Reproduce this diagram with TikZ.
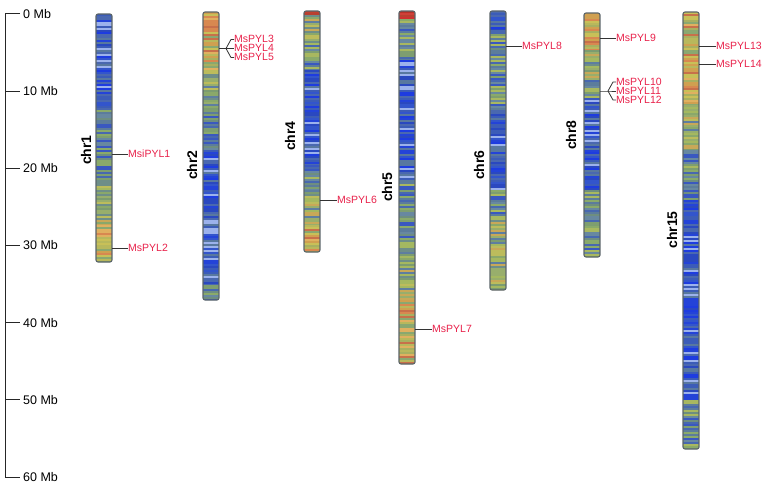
\documentclass[tikz,border=0pt]{standalone}
\usepackage{fontspec}
\setmainfont{Liberation Sans}
% palettes
\definecolor{pB1}{HTML}{2443D8}\definecolor{pB2}{HTML}{3355CC}\definecolor{pB3}{HTML}{2A48C0}\definecolor{pB4}{HTML}{4A68B0}
\definecolor{pB5}{HTML}{5878A0}\definecolor{pB6}{HTML}{1E3CE0}\definecolor{pB7}{HTML}{9CB2EC}\definecolor{pB8}{HTML}{3C5CB8}
\definecolor{pM1}{HTML}{3A58C0}\definecolor{pM2}{HTML}{5C7C9C}\definecolor{pM3}{HTML}{6E8E80}\definecolor{pM4}{HTML}{7E9E70}
\definecolor{pM5}{HTML}{4868B0}\definecolor{pM6}{HTML}{8AAA6A}\definecolor{pM7}{HTML}{6888A0}\definecolor{pM8}{HTML}{A8B860}
\definecolor{pG1}{HTML}{8AA86A}\definecolor{pG2}{HTML}{A4B860}\definecolor{pG3}{HTML}{6E8E88}\definecolor{pG4}{HTML}{BCBC5C}
\definecolor{pG5}{HTML}{7C9C70}\definecolor{pG6}{HTML}{98AE6C}\definecolor{pG7}{HTML}{5E7EA0}\definecolor{pG8}{HTML}{C8A858}
\definecolor{pO1}{HTML}{D0A050}\definecolor{pO2}{HTML}{C8C058}\definecolor{pO3}{HTML}{D88850}\definecolor{pO4}{HTML}{A8B060}
\definecolor{pO5}{HTML}{C8704A}\definecolor{pO6}{HTML}{8AA870}\definecolor{pO7}{HTML}{B8B85C}\definecolor{pO8}{HTML}{E0B060}
\definecolor{pR1}{HTML}{C83A30}\definecolor{pR2}{HTML}{D04038}\definecolor{pR3}{HTML}{B83028}\definecolor{pR4}{HTML}{C84838}
\definecolor{pR5}{HTML}{D03030}\definecolor{pR6}{HTML}{C04030}\definecolor{pR7}{HTML}{C83A30}\definecolor{pR8}{HTML}{B84030}
\definecolor{genered}{HTML}{E8214A}
\definecolor{chrline}{HTML}{5A6468}
\newcommand\seg[4]{%
  \pgfmathtruncatemacro\nn{(#3-#2)/2}%
  \foreach \i in {0,...,\nn}{%
    \pgfmathrandominteger{\kk}{1}{8}%
    \fill[#4\kk] (#1,#2+2*\i) rectangle ++(16,2.3);}}
\begin{document}
\begin{tikzpicture}[x=1pt,y=-1pt,
  chrbox/.style={draw=chrline,line width=1.1pt,rounded corners=2pt,minimum width=16pt,inner sep=0pt,outer sep=0pt,anchor=north west},
  chrlab/.style={rotate=90,font=\fontsize{14}{14}\selectfont\bfseries},
  gene/.style={text=genered,font=\fontsize{10.5}{10.5}\selectfont,anchor=west,inner sep=0pt,text height=7pt,text depth=0pt},
  conn/.style={draw=black!80,line width=0.8pt},
  axis/.style={draw=black!85,line width=1pt},
  axlab/.style={font=\fontsize{12.5}{12.5}\selectfont,anchor=west,inner sep=0pt}]
\useasboundingbox (0,0) rectangle (767,492);
\pgfmathsetseed{11}
% axis
\draw[axis] (20,14) coordinate (a0) -- (5,14) -- (5,477) -- (20,477) coordinate (a60);
\foreach \v in {10,20,30,40,50}{\draw[axis] (5,{14+7.717*\v}) -- (20,{14+7.717*\v}) coordinate (a\v);}
\node[axlab] (l0) at (23,14) {0 Mb};
\foreach \v in {10,20,30,40,50,60}{\node[axlab] (l\v) at (23,{14+7.717*\v}) {\v\ Mb};}
% chr1
\begin{scope}\clip[rounded corners=2pt] (96,14) rectangle (112,262);
\seg{96}{14}{110}{pB}\seg{96}{110}{180}{pM}\seg{96}{180}{225}{pG}\seg{96}{225}{262}{pO}\end{scope}
\node[chrbox,minimum height=248pt] (chr1) at (96,14) {};
\node[chrlab] (c1) at (86,150) {chr1};
% chr2
\begin{scope}\clip[rounded corners=2pt] (203,12) rectangle (219,300);
\seg{203}{12}{70}{pO}\seg{203}{70}{110}{pG}\seg{203}{110}{150}{pM}\seg{203}{150}{285}{pB}\seg{203}{285}{300}{pM}\end{scope}
\node[chrbox,minimum height=288pt] (chr2) at (203,12) {};
\node[chrlab] (c2) at (192,165) {chr2};
% chr4
\begin{scope}\clip[rounded corners=2pt] (304,11) rectangle (320,252);
\seg{304}{11}{15}{pR}\seg{304}{15}{45}{pG}\seg{304}{45}{70}{pM}\seg{304}{70}{165}{pB}\seg{304}{165}{190}{pM}\seg{304}{190}{225}{pG}\seg{304}{225}{252}{pO}\end{scope}
\node[chrbox,minimum height=241pt] (chr4) at (304,11) {};
\node[chrlab] (c4) at (290,136) {chr4};
% chr5
\begin{scope}\clip[rounded corners=2pt] (399,11) rectangle (415,364);
\seg{399}{11}{19}{pR}\seg{399}{19}{60}{pM}\seg{399}{60}{180}{pB}\seg{399}{180}{240}{pM}\seg{399}{240}{300}{pG}\seg{399}{300}{364}{pO}\end{scope}
\node[chrbox,minimum height=353pt] (chr5) at (399,11) {};
\node[chrlab] (c5) at (387,187) {chr5};
% chr6
\begin{scope}\clip[rounded corners=2pt] (490,11) rectangle (506,290);
\seg{490}{11}{30}{pB}\seg{490}{30}{110}{pM}\seg{490}{110}{190}{pB}\seg{490}{190}{220}{pM}\seg{490}{220}{290}{pG}\end{scope}
\node[chrbox,minimum height=279pt] (chr6) at (490,11) {};
\node[chrlab] (c6) at (479,165) {chr6};
% chr8
\begin{scope}\clip[rounded corners=2pt] (584,13) rectangle (600,257);
\seg{584}{13}{50}{pO}\seg{584}{50}{80}{pG}\seg{584}{80}{100}{pM}\seg{584}{100}{190}{pB}\seg{584}{190}{257}{pM}\end{scope}
\node[chrbox,minimum height=244pt] (chr8) at (584,13) {};
\node[chrlab] (c8) at (571,135) {chr8};
% chr15
\begin{scope}\clip[rounded corners=2pt] (683,12) rectangle (699,449);
\seg{683}{12}{105}{pO}\seg{683}{105}{150}{pG}\seg{683}{150}{200}{pM}\seg{683}{200}{400}{pB}\seg{683}{400}{449}{pM}\end{scope}
\node[chrbox,minimum height=437pt] (chr15) at (683,12) {};
\node[chrlab] (c15) at (672,230) {chr15};
% genes
\node[gene] (g1) at (128,154) {MsiPYL1};
\node[gene] (g2) at (128,248) {MsPYL2};
\node[gene] (g3) at (234,39.5) {MsPYL3};
\node[gene] (g4) at (234,48.5) {MsPYL4};
\node[gene] (g5) at (234,57.5) {MsPYL5};
\node[gene] (g6) at (337,200) {MsPYL6};
\node[gene] (g7) at (432,329) {MsPYL7};
\node[gene] (g8) at (522,46) {MsPYL8};
\node[gene] (g9) at (616,38) {MsPYL9};
\node[gene] (g10) at (616,82) {MsPYL10};
\node[gene] (g11) at (616,91) {MsPYL11};
\node[gene] (g12) at (616,100) {MsPYL12};
\node[gene] (g13) at (716,46) {MsPYL13};
\node[gene] (g14) at (716,64) {MsPYL14};
% connectors
\foreach \g/\c in {1/1,2/1,6/4,7/5,8/6,9/8,13/15,14/15}{\draw[conn] (chr\c.east |- g\g) -- (g\g.west);}
\coordinate (b2) at (226,48.5);
\draw[conn] (chr2.east |- b2) -- (b2) -- (g4.west);
\draw[conn] (b2) -- ([xshift=-3pt]g3.west) -- (g3.west);
\draw[conn] (b2) -- ([xshift=-3pt]g5.west) -- (g5.west);
\coordinate (b8) at (608,91);
\draw[conn] (chr8.east |- b8) -- (b8) -- (g11.west);
\draw[conn] (b8) -- ([xshift=-3pt]g10.west) -- (g10.west);
\draw[conn] (b8) -- ([xshift=-3pt]g12.west) -- (g12.west);
\end{tikzpicture}
\end{document}
